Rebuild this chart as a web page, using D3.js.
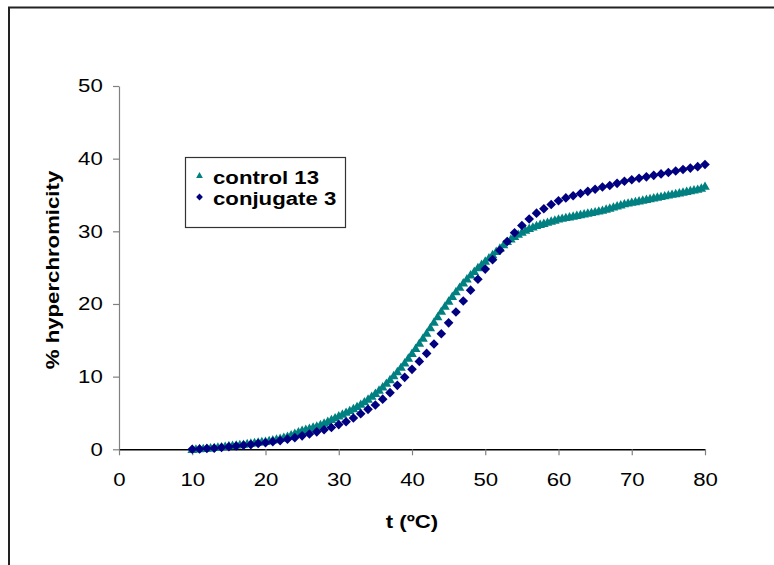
<!DOCTYPE html>
<html>
<head>
<meta charset="utf-8">
<script src="https://cdn.jsdelivr.net/npm/d3@7"></script>
<style>
  html, body { margin: 0; padding: 0; background: #fff; }
  svg { display: block; }
  text { font-family: Arial, "Liberation Sans", sans-serif; fill: #000; }
</style>
</head>
<body>
<svg id="chart" width="774" height="565"></svg>
<script>
// ---- data ----
const xTicks = [0, 10, 20, 30, 40, 50, 60, 70, 80];
const yTicks = [0, 10, 20, 30, 40, 50];
const seriesNames = ["control 13", "conjugate 3"];

const tempsControl = [
  10,10.5,11,11.5,12,12.5,13,13.5,14,14.5,15,15.5,16,16.5,17,17.5,18,18.5,19,19.5,
  20,20.5,21,21.5,22,22.5,23,23.5,24,24.5,25,25.5,26,26.5,27,27.5,28,28.5,29,29.5,
  30,30.5,31,31.5,32,32.5,33,33.5,34,34.5,35,35.5,36,36.5,37,37.5,38,38.5,39,39.5,
  40,40.5,41,41.5,42,42.5,43,43.5,44,44.5,45,45.5,46,46.5,47,47.5,48,48.5,49,49.5,
  50,50.5,51,51.5,52,52.5,53,53.5,54,54.5,55,55.5,56,56.5,57,57.5,58,58.5,59,59.5,
  60,60.5,61,61.5,62,62.5,63,63.5,64,64.5,65,65.5,66,66.5,67,67.5,68,68.5,69,69.5,
  70,70.5,71,71.5,72,72.5,73,73.5,74,74.5,75,75.5,76,76.5,77,77.5,78,78.5,79,79.5,80
];
const control13 = [
  0,0.05,0.1,0.12,0.15,0.2,0.25,0.3,0.35,0.42,0.5,0.55,0.6,0.65,0.7,0.78,0.85,0.92,1.0,1.05,
  1.1,1.2,1.3,1.4,1.5,1.65,1.8,2.0,2.2,2.4,2.6,2.75,2.9,3.05,3.2,3.4,3.6,3.85,4.1,4.35,
  4.6,4.85,5.1,5.35,5.6,5.9,6.2,6.55,6.9,7.3,7.7,8.15,8.6,9.1,9.6,10.15,10.7,11.3,11.9,12.55,
  13.2,13.9,14.6,15.3,16.0,16.75,17.5,18.25,19.0,19.7,20.4,21.05,21.7,22.3,22.9,23.45,24.0,24.5,25.0,25.45,
  25.9,26.35,26.8,27.25,27.7,28.15,28.6,28.95,29.3,29.6,29.9,30.15,30.4,30.6,30.8,30.95,31.1,31.25,31.4,31.55,
  31.7,31.8,31.9,32.0,32.1,32.2,32.3,32.4,32.5,32.6,32.7,32.8,32.9,33.05,33.2,33.35,33.5,33.65,33.8,33.9,
  34.0,34.1,34.2,34.3,34.4,34.5,34.6,34.7,34.8,34.9,35.0,35.1,35.2,35.3,35.4,35.5,35.6,35.7,35.8,35.95,36.2
];

const tempsConj = [
  10,11,12,13,14,15,16,17,18,19,20,21,22,23,24,25,26,27,28,29,
  30,31,32,33,34,35,36,37,38,39,40,41,42,43,44,45,46,47,48,49,
  50,51,52,53,54,55,56,57,58,59,60,61,62,63,64,65,66,67,68,69,
  70,71,72,73,74,75,76,77,78,79,80
];
const conjugate3 = [
  0,0.05,0.1,0.15,0.25,0.35,0.45,0.55,0.65,0.8,0.9,1.05,1.2,1.4,1.6,1.85,2.1,2.4,2.7,3.0,
  3.4,3.8,4.3,4.9,5.5,6.1,6.9,7.8,8.8,9.9,11.0,12.1,13.2,14.5,15.9,17.4,18.9,20.4,21.9,23.4,
  24.8,26.1,27.4,28.6,29.8,30.8,31.7,32.5,33.1,33.7,34.2,34.6,34.9,35.2,35.5,35.8,36.1,36.3,36.6,36.9,
  37.1,37.3,37.5,37.7,37.9,38.1,38.3,38.5,38.7,38.9,39.2
];

// ---- layout / style ----
const colors = { control: "#008080", conj: "#000080" };
const fs = 18.5, sx = 1.2;
const svg = d3.select("#chart");

// outer chart-area border (extends past window)
svg.append("rect").attr("x", 9).attr("y", 7.5).attr("width", 900).attr("height", 700)
  .attr("fill", "none").attr("stroke", "#222").attr("stroke-width", 2);

const x = d3.scaleLinear().domain([0, 80]).range([119, 705]);
const y = d3.scaleLinear().domain([0, 50]).range([449.3, 86]);

// y axis
const gy = svg.append("g").attr("transform", `translate(${x(0)},0)`)
  .call(d3.axisLeft(y).tickValues(yTicks).tickSizeInner(6).tickSizeOuter(0).tickPadding(7.5));
gy.select(".domain").attr("stroke", "#808080").attr("stroke-width", 1.2);
gy.selectAll(".tick line").attr("stroke", "#808080").attr("stroke-width", 1.2);
gy.selectAll(".tick text").attr("font-size", fs).attr("font-family", "Arial, 'Liberation Sans', sans-serif")
  .attr("transform", `scale(${sx},1)`);

// x axis
const gx = svg.append("g").attr("transform", `translate(0,${y(0)})`)
  .call(d3.axisBottom(x).tickValues(xTicks).tickSizeInner(6).tickSizeOuter(0).tickPadding(17.5));
gx.select(".domain").attr("stroke", "#000").attr("stroke-width", 1.5);
gx.selectAll(".tick line").attr("stroke", "#808080").attr("stroke-width", 1.2);
gx.selectAll(".tick text").attr("font-size", fs).attr("font-family", "Arial, 'Liberation Sans', sans-serif")
  .attr("transform", `scale(${sx},1)`);

// axis titles
svg.append("text").attr("transform", `translate(412,528) scale(${sx},1)`)
  .attr("text-anchor", "middle").attr("font-weight", "bold").attr("font-size", fs)
  .text("t (ºC)");
svg.append("text").attr("transform", `translate(59,270) rotate(-90) scale(${sx},1)`)
  .attr("text-anchor", "middle").attr("font-weight", "bold").attr("font-size", fs)
  .text("% hyperchromicity");

// markers
const triPath = (cx, cy, r) => `M${cx},${cy - r}L${cx + r},${cy + r * 0.75}L${cx - r},${cy + r * 0.75}Z`;
const diaPath = (cx, cy, r) => `M${cx},${cy - r}L${cx + r},${cy}L${cx},${cy + r}L${cx - r},${cy}Z`;

const ctrlData = tempsControl.map((t, i) => [t, control13[i]]);
const conjData = tempsConj.map((t, i) => [t, conjugate3[i]]);

svg.append("g").selectAll("path").data(ctrlData).join("path")
  .attr("d", d => triPath(x(d[0]), y(d[1]), 4.8))
  .attr("fill", colors.control);

svg.append("g").selectAll("path").data(conjData).join("path")
  .attr("d", d => diaPath(x(d[0]), y(d[1]), 4.8))
  .attr("fill", colors.conj);

// legend
const lg = svg.append("g");
lg.append("rect").attr("x", 185.5).attr("y", 157.5).attr("width", 160).attr("height", 70)
  .attr("fill", "#fff").attr("stroke", "#333").attr("stroke-width", 1.2);
lg.append("path").attr("d", triPath(199.5, 175.5, 3.4)).attr("fill", colors.control);
lg.append("path").attr("d", diaPath(199.5, 197, 3.4)).attr("fill", colors.conj);
lg.append("text").attr("transform", `translate(213,183.5) scale(${sx},1)`)
  .attr("font-weight", "bold").attr("font-size", fs).text(seriesNames[0]);
lg.append("text").attr("transform", `translate(213,204.5) scale(${sx},1)`)
  .attr("font-weight", "bold").attr("font-size", fs).text(seriesNames[1]);
</script>
</body>
</html>
